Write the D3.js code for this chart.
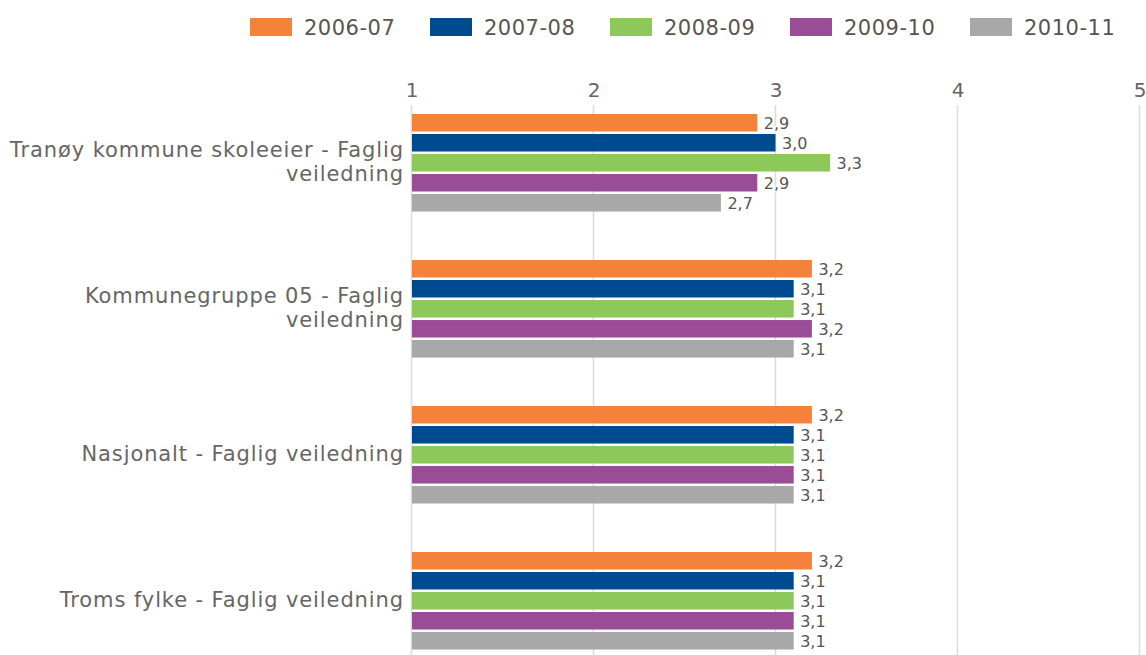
<!DOCTYPE html>
<html>
<head>
<meta charset="utf-8">
<script src="https://cdn.jsdelivr.net/npm/d3@7"></script>
<style>
  html, body { margin: 0; padding: 0; background: #fff; }
  svg { display: block; font-family: "DejaVu Sans", Verdana, sans-serif; }
</style>
</head>
<body>
<svg id="chart" width="1146" height="655"></svg>
<script>
const categories = [
  "Tranøy kommune skoleeier - Faglig veiledning",
  "Kommunegruppe 05 - Faglig veiledning",
  "Nasjonalt - Faglig veiledning",
  "Troms fylke - Faglig veiledning"
];
const seriesNames = ["2006-07", "2007-08", "2008-09", "2009-10", "2010-11"];
const seriesColors = ["#F5823A", "#004A8F", "#8CC85A", "#9A4D96", "#A8A8A8"];
const values2006 = [2.9, 3.2, 3.2, 3.2];
const values2007 = [3.0, 3.1, 3.1, 3.1];
const values2008 = [3.3, 3.1, 3.1, 3.1];
const values2009 = [2.9, 3.2, 3.1, 3.1];
const values2010 = [2.7, 3.1, 3.1, 3.1];
const tickValues = [1, 2, 3, 4, 5];

const seriesValues = [values2006, values2007, values2008, values2009, values2010];

const svg = d3.select("#chart");

const x = d3.scaleLinear().domain([1, 5]).range([411.5, 1139.5]);
const y0 = d3.scaleBand().domain(categories).range([114, 114 + 146 * (4 - 0.332)]).paddingInner(0.332).paddingOuter(0);
const y1 = d3.scaleBand().domain(seriesNames).range([0, y0.bandwidth()]).paddingInner(0.125).paddingOuter(0);
const color = d3.scaleOrdinal().domain(seriesNames).range(seriesColors);
const fmt = v => d3.format(".1f")(v).replace(".", ",");

// Gridlines
svg.append("g").selectAll("line").data(tickValues).join("line")
  .attr("x1", d => x(d)).attr("x2", d => x(d))
  .attr("y1", 105).attr("y2", 655)
  .attr("stroke", "#dcdcdc").attr("stroke-width", 1.5);

// Top axis labels
const axis = d3.axisTop(x).tickValues(tickValues).tickFormat(d3.format("d")).tickSize(0).tickPadding(0);
const axG = svg.append("g").attr("transform", "translate(0,96.5)").call(axis);
axG.select(".domain").remove();
axG.selectAll("text").attr("font-size", 20).attr("fill", "#666")
  .attr("font-family", "DejaVu Sans, Verdana, sans-serif").attr("dy", 0);

// Bars
const groups = svg.append("g").selectAll("g").data(categories).join("g")
  .attr("transform", d => `translate(0,${y0(d)})`);

groups.each(function(cat, ci) {
  const g = d3.select(this);
  const rows = seriesNames.map((s, si) => ({ s, v: seriesValues[si][ci] }));
  g.selectAll("rect").data(rows).join("rect")
    .attr("x", x(1) + 0.5)
    .attr("y", d => y1(d.s))
    .attr("width", d => x(d.v) - x(1) - 0.5)
    .attr("height", y1.bandwidth())
    .attr("fill", d => color(d.s));
  g.selectAll("text.val").data(rows).join("text")
    .attr("class", "val")
    .attr("x", d => x(d.v) + 6.5)
    .attr("y", d => y1(d.s) + y1.bandwidth() / 2 + 5.8)
    .attr("font-size", 16)
    .attr("fill", "#555")
    .attr("stroke", "#fff").attr("stroke-width", 3).attr("paint-order", "stroke")
    .attr("stroke-linejoin", "round")
    .text(d => fmt(d.v));
});

// Category labels with wrapping
const maxW = 405;
const lineH = 24;
svg.append("g").selectAll("text").data(categories).join("text")
  .attr("text-anchor", "end")
  .attr("font-size", 21)
  .attr("letter-spacing", 0.9)
  .attr("fill", "#666")
  .each(function(d) {
    const t = d3.select(this);
    const words = d.split(" ");
    const lines = [];
    let cur = [];
    const probe = t.append("tspan");
    words.forEach(w => {
      const test = cur.concat([w]).join(" ");
      probe.text(test);
      if (probe.node().getComputedTextLength() > maxW && cur.length) {
        lines.push(cur.join(" "));
        cur = [w];
      } else {
        cur.push(w);
      }
    });
    lines.push(cur.join(" "));
    probe.remove();
    const cy = y0(d) + y0.bandwidth() / 2;
    const firstBase = cy + 6.5 - (lines.length - 1) * lineH / 2;
    lines.forEach((ln, i) => {
      t.append("tspan").attr("x", 404).attr("y", firstBase + i * lineH).text(ln);
    });
  });

// Legend
const leg = svg.append("g").selectAll("g").data(seriesNames).join("g")
  .attr("transform", (d, i) => `translate(${250 + i * 180},18)`);
leg.append("rect").attr("width", 42).attr("height", 18).attr("fill", d => color(d));
leg.append("text").attr("x", 54).attr("y", 16.5)
  .attr("font-size", 21).attr("letter-spacing", 0.5).attr("fill", "#555")
  .text(d => d);
</script>
</body>
</html>
